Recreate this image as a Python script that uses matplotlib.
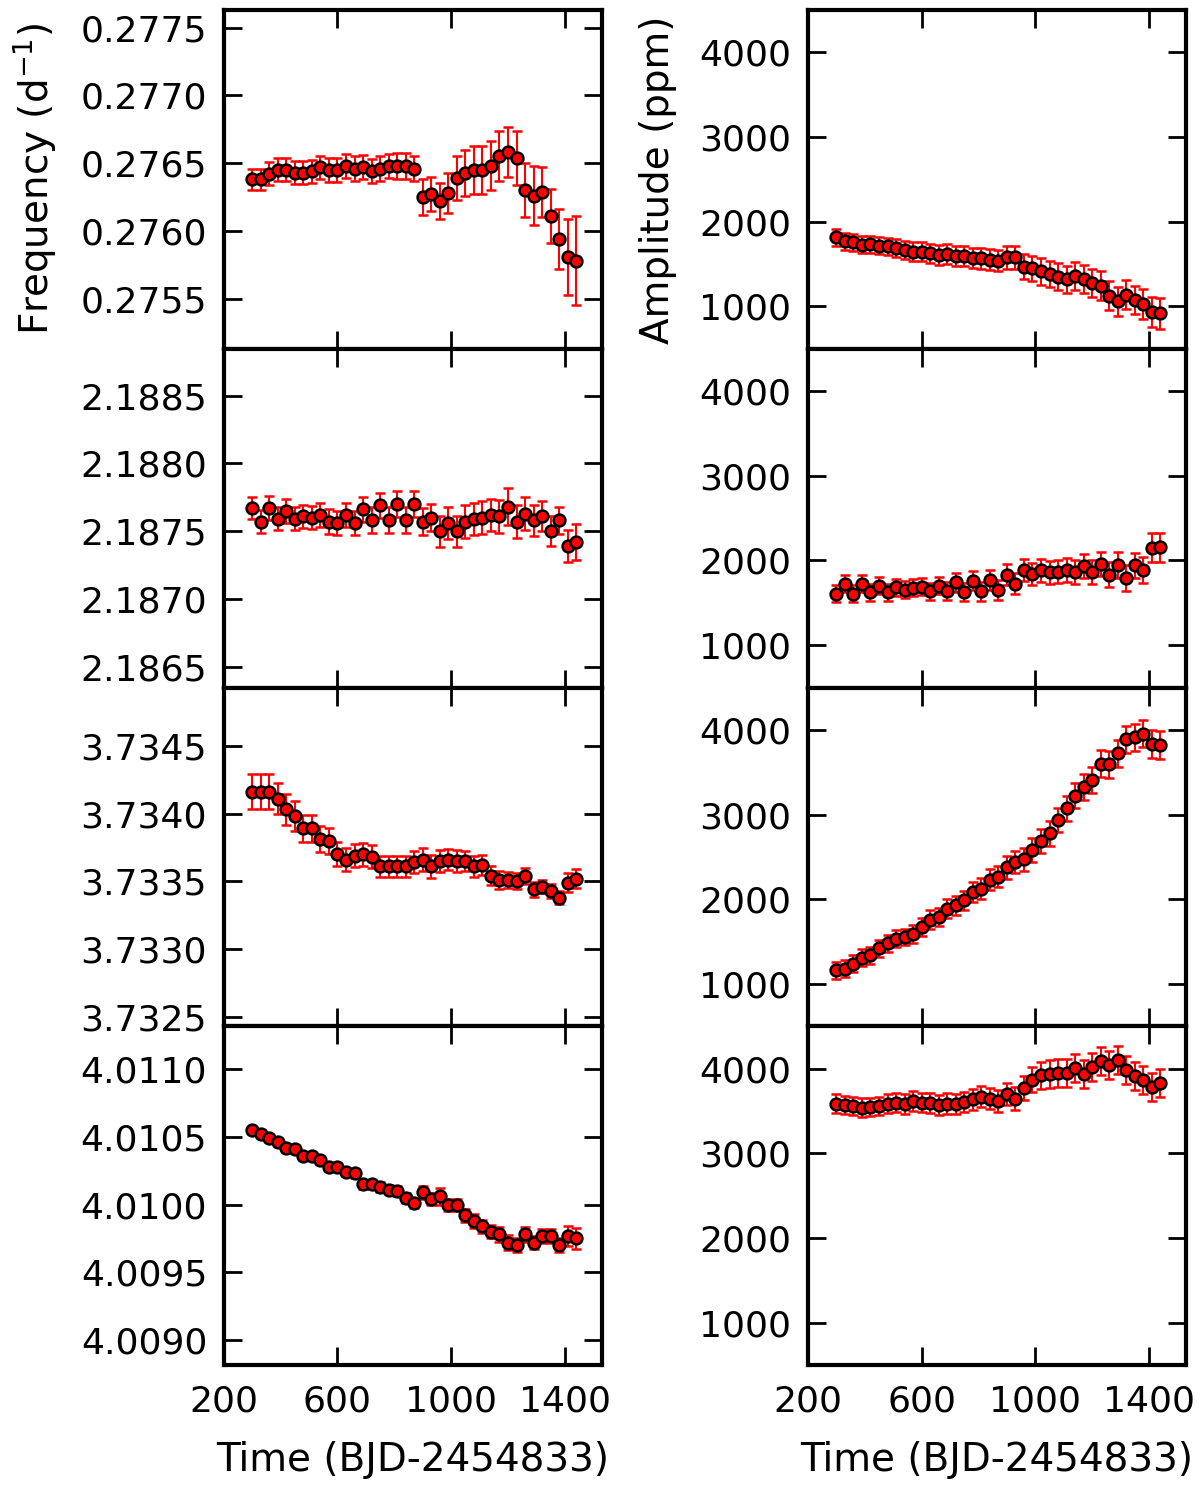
import numpy as np
import matplotlib
matplotlib.use("Agg")
import matplotlib.pyplot as plt
from matplotlib.ticker import MultipleLocator, FormatStrFormatter

# time of each segment (BJD-2454833)
time = [300, 330, 360, 390, 420, 450, 480, 510, 540, 570,
        600, 630, 660, 690, 720, 750, 780, 810, 840, 870,
        900, 930, 960, 990, 1020, 1050, 1080, 1110, 1140, 1170,
        1200, 1230, 1260, 1290, 1320, 1350, 1380, 1410, 1440]

# frequencies (d^-1) and errors (1e-4 d^-1)
f1 = [0.27638, 0.27638, 0.27642, 0.27645, 0.27645, 0.27643, 0.27643, 0.27644, 0.27647, 0.27645,
      0.27645, 0.27648, 0.27646, 0.27647, 0.27644, 0.27646, 0.27648, 0.27648, 0.27648, 0.27646,
      0.27625, 0.27627, 0.27622, 0.27628, 0.27639, 0.27643, 0.27645, 0.27645, 0.27648, 0.27655,
      0.27658, 0.27654, 0.27630, 0.27626, 0.27629, 0.27611, 0.27594, 0.27581, 0.27578]
f1_err = [0.8, 0.8, 0.85, 0.85, 0.85, 0.85, 0.85, 0.85, 0.85, 0.9,
          0.9, 0.9, 0.9, 0.9, 0.9, 0.9, 0.9, 0.95, 0.95, 0.95,
          1.3, 1.25, 1.3, 1.5, 1.6, 1.7, 1.75, 1.75, 1.8, 1.85,
          1.85, 2.0, 2.0, 2.2, 1.85, 2.0, 2.2, 2.8, 3.3]

f2 = [2.18767, 2.18757, 2.18767, 2.18759, 2.18765, 2.18759, 2.18761, 2.18760, 2.18762, 2.18757,
      2.18756, 2.18762, 2.18756, 2.18766, 2.18758, 2.18769, 2.18758, 2.18770, 2.18758, 2.18770,
      2.18757, 2.18760, 2.18750, 2.18756, 2.18750, 2.18757, 2.18759, 2.18760, 2.18762, 2.18761,
      2.18768, 2.18757, 2.18763, 2.18758, 2.18761, 2.18750, 2.18758, 2.18739, 2.18742]
f2_err = [0.8, 0.85, 0.9, 0.85, 0.9, 0.85, 0.85, 0.85, 0.9, 0.9,
          0.9, 0.9, 0.9, 0.95, 0.95, 0.95, 0.95, 0.95, 0.95, 0.95,
          1.0, 1.0, 1.15, 1.15, 1.15, 1.2, 1.2, 1.2, 1.2, 1.2,
          1.35, 1.2, 1.2, 1.15, 1.1, 1.1, 1.0, 1.15, 1.3]

f3 = [3.73416, 3.73416, 3.73416, 3.73411, 3.73403, 3.73398, 3.73389, 3.73389, 3.73381, 3.73380,
      3.73370, 3.73366, 3.73369, 3.73370, 3.73368, 3.73361, 3.73361, 3.73361, 3.73361, 3.73364,
      3.73366, 3.73361, 3.73365, 3.73366, 3.73365, 3.73365, 3.73361, 3.73362, 3.73354, 3.73351,
      3.73351, 3.73350, 3.73354, 3.73344, 3.73346, 3.73343, 3.73338, 3.73349, 3.73352]
f3_err = [1.3, 1.3, 1.3, 1.15, 1.15, 1.1, 1.0, 1.0, 0.95, 0.95,
          0.9, 0.85, 0.85, 0.85, 0.85, 0.8, 0.8, 0.8, 0.8, 0.8,
          0.85, 0.85, 0.8, 0.8, 0.8, 0.75, 0.75, 0.75, 0.7, 0.65,
          0.6, 0.6, 0.6, 0.55, 0.5, 0.5, 0.5, 0.7, 0.7]

f4 = [4.01055, 4.01052, 4.01049, 4.01046, 4.01042, 4.01041, 4.01036, 4.01036, 4.01033, 4.01028,
      4.01028, 4.01024, 4.01023, 4.01015, 4.01015, 4.01013, 4.01011, 4.01010, 4.01005, 4.01001,
      4.01009, 4.01004, 4.01006, 4.01000, 4.01000, 4.00992, 4.00988, 4.00984, 4.00980, 4.00978,
      4.00972, 4.00970, 4.00978, 4.00972, 4.00977, 4.00977, 4.00970, 4.00977, 4.00975]
f4_err = [0.3, 0.3, 0.3, 0.3, 0.3, 0.3, 0.3, 0.3, 0.3, 0.3,
          0.3, 0.3, 0.3, 0.35, 0.35, 0.35, 0.35, 0.35, 0.35, 0.35,
          0.5, 0.45, 0.6, 0.45, 0.45, 0.5, 0.5, 0.5, 0.5, 0.55,
          0.55, 0.5, 0.55, 0.5, 0.5, 0.5, 0.5, 0.75, 0.75]

# amplitudes (ppm) and errors (ppm)
a1 = [1815, 1768, 1756, 1728, 1736, 1717, 1709, 1689, 1669, 1646,
      1646, 1626, 1606, 1618, 1598, 1598, 1571, 1567, 1551, 1539,
      1579, 1579, 1468, 1449, 1413, 1382, 1350, 1323, 1354, 1323,
      1276, 1244, 1126, 1059, 1138, 1075, 1028, 937, 917]
a1_err = [100, 100, 100, 100, 100, 100, 100, 105, 105, 110,
          110, 110, 115, 115, 115, 120, 120, 120, 125, 125,
          140, 140, 150, 150, 155, 155, 160, 160, 165, 165,
          165, 170, 170, 170, 170, 170, 175, 180, 180]

a2 = [1609, 1724, 1609, 1724, 1625, 1704, 1625, 1684, 1657, 1676,
      1688, 1637, 1704, 1637, 1743, 1629, 1763, 1637, 1767, 1649,
      1834, 1728, 1886, 1842, 1886, 1862, 1866, 1886, 1862, 1933,
      1862, 1961, 1834, 1945, 1795, 1941, 1886, 2150, 2158]
a2_err = [100, 100, 100, 100, 100, 100, 100, 100, 100, 100,
          100, 100, 105, 105, 110, 110, 110, 110, 115, 115,
          120, 120, 130, 130, 135, 135, 135, 140, 140, 140,
          145, 145, 145, 150, 150, 150, 150, 170, 170]

a3 = [1159, 1179, 1238, 1309, 1337, 1424, 1483, 1534, 1554, 1593,
      1672, 1759, 1791, 1889, 1929, 1988, 2087, 2126, 2233, 2264,
      2375, 2442, 2470, 2580, 2691, 2778, 2935, 3074, 3224, 3322,
      3409, 3599, 3595, 3725, 3891, 3914, 3954, 3831, 3816]
a3_err = [100, 100, 100, 100, 100, 100, 100, 100, 100, 105,
          105, 110, 110, 110, 115, 115, 120, 120, 125, 125,
          130, 130, 135, 140, 140, 145, 145, 150, 150, 155,
          155, 160, 160, 160, 160, 160, 160, 165, 165]

a4 = [3588, 3569, 3557, 3541, 3549, 3557, 3588, 3600, 3580, 3616,
      3600, 3596, 3569, 3588, 3580, 3608, 3639, 3667, 3647, 3616,
      3698, 3647, 3773, 3871, 3922, 3941, 3949, 3949, 4008, 3941,
      4020, 4086, 4039, 4098, 3988, 3914, 3863, 3784, 3831]
a4_err = [110, 110, 110, 110, 110, 110, 110, 115, 115, 115,
          115, 115, 120, 120, 120, 120, 125, 125, 125, 130,
          130, 135, 140, 150, 160, 165, 165, 165, 165, 165,
          165, 165, 165, 165, 165, 165, 165, 165, 165]

time_ticks = [200, 600, 1000, 1400]

freqs = [f1, f2, f3, f4]
freq_errs = [f1_err, f2_err, f3_err, f4_err]
amps = [a1, a2, a3, a4]
amp_errs = [a1_err, a2_err, a3_err, a4_err]
freq_lims = [(0.27513, 0.27763), (2.186346, 2.188846), (3.73243, 3.73493), (4.008816, 4.011316)]

plt.rcParams["font.family"] = "DejaVu Sans"

fig = plt.figure(figsize=(12, 14.93), dpi=100)
left_x = [0.1865, 0.6733]
width = 0.315
top = 0.9933
bottom = 0.0857
h = (top - bottom) / 4

ebkw = dict(fmt="o", color="red", mfc="red", mec="black", mew=1.8, ms=8.5,
            ecolor="red", elinewidth=1.5, capsize=3.5, capthick=1.5)


def style(ax):
    for s in ax.spines.values():
        s.set_linewidth(3)
    ax.tick_params(direction="in", length=13, width=2, left=True, right=True,
                   top=True, bottom=True, labelsize=26)
    ax.tick_params(axis="y", pad=12)
    ax.tick_params(axis="x", pad=14)
    ax.set_xlim(200, 1530)
    ax.set_xticks(time_ticks)


for row in range(4):
    y0 = top - (row + 1) * h
    axf = fig.add_axes([left_x[0], y0, width, h])
    axa = fig.add_axes([left_x[1], y0, width, h])

    t = np.array(time)
    axf.errorbar(t, freqs[row], yerr=np.array(freq_errs[row]) * 1e-4, **ebkw)
    axa.errorbar(t, amps[row], yerr=amp_errs[row], **ebkw)

    style(axf)
    style(axa)
    axf.set_ylim(*freq_lims[row])
    axf.yaxis.set_major_locator(MultipleLocator(0.0005))
    axf.yaxis.set_major_formatter(FormatStrFormatter("%.4f"))
    axa.set_ylim(500, 4500)
    axa.yaxis.set_major_locator(MultipleLocator(1000))

    if row < 3:
        axf.tick_params(labelbottom=False)
        axa.tick_params(labelbottom=False)
    else:
        axf.set_xlabel("Time (BJD-2454833)", fontsize=28, labelpad=16)
        axa.set_xlabel("Time (BJD-2454833)", fontsize=28, labelpad=16)
    if row == 0:
        axf.set_ylabel(r"Frequency (d$^{-1}$)", fontsize=28, labelpad=16)
        axa.set_ylabel("Amplitude (ppm)", fontsize=28, labelpad=16)

fig.savefig("out.png", dpi=100)
